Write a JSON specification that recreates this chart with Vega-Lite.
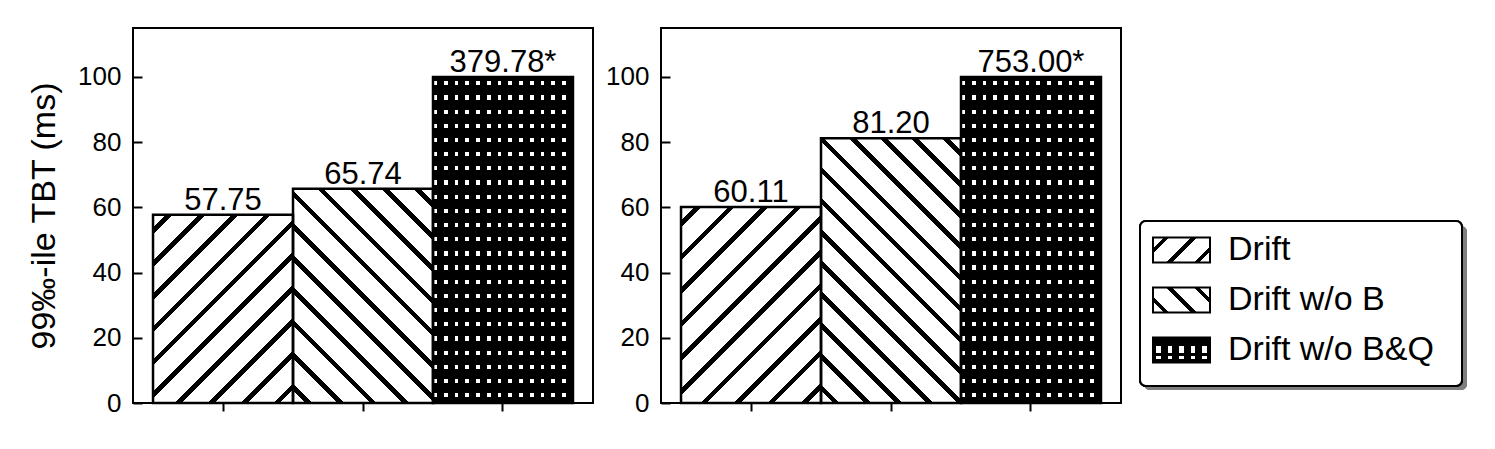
{
  "$schema": "https://vega.github.io/schema/vega-lite/v6.json",
  "padding": {"left": 26, "top": 27, "right": 5, "bottom": 5},
  "background": "white",
  "config": {
    "view": {"stroke": "black", "strokeWidth": 2},
    "font": "Liberation Sans",
    "axis": {"labelFont": "Liberation Sans", "titleFont": "Liberation Sans", "labelColor": "black", "titleColor": "black", "tickColor": "black", "tickWidth": 2, "domain": false, "grid": false, "titleFontWeight": "normal"}
  },
  "data": {"values": [
    {"panel": "L", "series": "Drift", "value": 57.75, "label": "57.75"},
    {"panel": "L", "series": "Drift w/o B", "value": 65.74, "label": "65.74"},
    {"panel": "L", "series": "Drift w/o B&Q", "value": 100, "label": "379.78*"},
    {"panel": "R", "series": "Drift", "value": 60.11, "label": "60.11"},
    {"panel": "R", "series": "Drift w/o B", "value": 81.2, "label": "81.20"},
    {"panel": "R", "series": "Drift w/o B&Q", "value": 100, "label": "753.00*"}
  ]},
  "bounds": "flush",
  "spacing": 68,
  "hconcat": [
    {
      "width": 460, "height": 375,
      "transform": [{"filter": "datum.panel === 'L'"}],
      "encoding": {
        "x": {"field": "series", "type": "nominal", "sort": ["Drift", "Drift w/o B", "Drift w/o B&Q"], "scale": {"paddingInner": 0, "paddingOuter": 0.143}, "axis": {"title": null, "labels": false, "tickSize": 8}},
        "y": {"field": "value", "type": "quantitative", "scale": {"domain": [0, 115], "nice": false}, "axis": {"title": "99‰-ile TBT (ms)", "values": [0, 20, 40, 60, 80, 100], "tickSize": -9, "labelPadding": 21, "labelFontSize": 26, "titleFontSize": 34, "titlePadding": 16}}
      },
      "layer": [
        {
          "mark": {"type": "bar"},
          "encoding": {
            "fill": {
              "condition": [
                {"test": "datum.series === 'Drift'", "value": {"gradient": "linear", "x1": 0, "y1": 0, "x2": 0.8348, "y2": 1.1228, "stops": [{"offset":0,"color":"white"},{"offset":0.04,"color":"white"},{"offset":0.04,"color":"black"},{"offset":0.06,"color":"black"},{"offset":0.06,"color":"white"},{"offset":0.14,"color":"white"},{"offset":0.14,"color":"black"},{"offset":0.16,"color":"black"},{"offset":0.16,"color":"white"},{"offset":0.24,"color":"white"},{"offset":0.24,"color":"black"},{"offset":0.26,"color":"black"},{"offset":0.26,"color":"white"},{"offset":0.34,"color":"white"},{"offset":0.34,"color":"black"},{"offset":0.36,"color":"black"},{"offset":0.36,"color":"white"},{"offset":0.44,"color":"white"},{"offset":0.44,"color":"black"},{"offset":0.46,"color":"black"},{"offset":0.46,"color":"white"},{"offset":0.54,"color":"white"},{"offset":0.54,"color":"black"},{"offset":0.56,"color":"black"},{"offset":0.56,"color":"white"},{"offset":0.64,"color":"white"},{"offset":0.64,"color":"black"},{"offset":0.66,"color":"black"},{"offset":0.66,"color":"white"},{"offset":0.74,"color":"white"},{"offset":0.74,"color":"black"},{"offset":0.76,"color":"black"},{"offset":0.76,"color":"white"},{"offset":0.84,"color":"white"},{"offset":0.84,"color":"black"},{"offset":0.86,"color":"black"},{"offset":0.86,"color":"white"},{"offset":0.94,"color":"white"},{"offset":0.94,"color":"black"},{"offset":0.96,"color":"black"},{"offset":0.96,"color":"white"},{"offset":1,"color":"white"}]}},
                {"test": "datum.series === 'Drift w/o B'", "value": {"gradient": "linear", "x1": 0, "y1": 1, "x2": 0.7567, "y2": -0.1588, "stops": [{"offset":0,"color":"white"},{"offset":0.0360,"color":"white"},{"offset":0.0360,"color":"black"},{"offset":0.0550,"color":"black"},{"offset":0.0550,"color":"white"},{"offset":0.1269,"color":"white"},{"offset":0.1269,"color":"black"},{"offset":0.1459,"color":"black"},{"offset":0.1459,"color":"white"},{"offset":0.2178,"color":"white"},{"offset":0.2178,"color":"black"},{"offset":0.2368,"color":"black"},{"offset":0.2368,"color":"white"},{"offset":0.3087,"color":"white"},{"offset":0.3087,"color":"black"},{"offset":0.3277,"color":"black"},{"offset":0.3277,"color":"white"},{"offset":0.3996,"color":"white"},{"offset":0.3996,"color":"black"},{"offset":0.4186,"color":"black"},{"offset":0.4186,"color":"white"},{"offset":0.4905,"color":"white"},{"offset":0.4905,"color":"black"},{"offset":0.5095,"color":"black"},{"offset":0.5095,"color":"white"},{"offset":0.5814,"color":"white"},{"offset":0.5814,"color":"black"},{"offset":0.6004,"color":"black"},{"offset":0.6004,"color":"white"},{"offset":0.6723,"color":"white"},{"offset":0.6723,"color":"black"},{"offset":0.6913,"color":"black"},{"offset":0.6913,"color":"white"},{"offset":0.7632,"color":"white"},{"offset":0.7632,"color":"black"},{"offset":0.7822,"color":"black"},{"offset":0.7822,"color":"white"},{"offset":0.8541,"color":"white"},{"offset":0.8541,"color":"black"},{"offset":0.8731,"color":"black"},{"offset":0.8731,"color":"white"},{"offset":0.9450,"color":"white"},{"offset":0.9450,"color":"black"},{"offset":0.9640,"color":"black"},{"offset":0.9640,"color":"white"},{"offset":1,"color":"white"}]}}
              ],
              "value": "black"
            }
          }
        },
        {
          "mark": {"type": "bar"},
          "encoding": {"fill": {"condition": {"test": "datum.series === 'Drift w/o B&Q'", "value": {"gradient": "linear", "x1": 0, "y1": 0, "x2": 0, "y2": 1, "stops": [{"offset":0,"color":"rgba(255,255,255,0)"},{"offset":0.0130,"color":"rgba(255,255,255,0)"},{"offset":0.0130,"color":"white"},{"offset":0.0261,"color":"white"},{"offset":0.0261,"color":"rgba(255,255,255,0)"},{"offset":0.0565,"color":"rgba(255,255,255,0)"},{"offset":0.0565,"color":"white"},{"offset":0.0696,"color":"white"},{"offset":0.0696,"color":"rgba(255,255,255,0)"},{"offset":0.1000,"color":"rgba(255,255,255,0)"},{"offset":0.1000,"color":"white"},{"offset":0.1130,"color":"white"},{"offset":0.1130,"color":"rgba(255,255,255,0)"},{"offset":0.1435,"color":"rgba(255,255,255,0)"},{"offset":0.1435,"color":"white"},{"offset":0.1565,"color":"white"},{"offset":0.1565,"color":"rgba(255,255,255,0)"},{"offset":0.1870,"color":"rgba(255,255,255,0)"},{"offset":0.1870,"color":"white"},{"offset":0.2000,"color":"white"},{"offset":0.2000,"color":"rgba(255,255,255,0)"},{"offset":0.2304,"color":"rgba(255,255,255,0)"},{"offset":0.2304,"color":"white"},{"offset":0.2435,"color":"white"},{"offset":0.2435,"color":"rgba(255,255,255,0)"},{"offset":0.2739,"color":"rgba(255,255,255,0)"},{"offset":0.2739,"color":"white"},{"offset":0.2870,"color":"white"},{"offset":0.2870,"color":"rgba(255,255,255,0)"},{"offset":0.3174,"color":"rgba(255,255,255,0)"},{"offset":0.3174,"color":"white"},{"offset":0.3304,"color":"white"},{"offset":0.3304,"color":"rgba(255,255,255,0)"},{"offset":0.3609,"color":"rgba(255,255,255,0)"},{"offset":0.3609,"color":"white"},{"offset":0.3739,"color":"white"},{"offset":0.3739,"color":"rgba(255,255,255,0)"},{"offset":0.4043,"color":"rgba(255,255,255,0)"},{"offset":0.4043,"color":"white"},{"offset":0.4174,"color":"white"},{"offset":0.4174,"color":"rgba(255,255,255,0)"},{"offset":0.4478,"color":"rgba(255,255,255,0)"},{"offset":0.4478,"color":"white"},{"offset":0.4609,"color":"white"},{"offset":0.4609,"color":"rgba(255,255,255,0)"},{"offset":0.4913,"color":"rgba(255,255,255,0)"},{"offset":0.4913,"color":"white"},{"offset":0.5043,"color":"white"},{"offset":0.5043,"color":"rgba(255,255,255,0)"},{"offset":0.5348,"color":"rgba(255,255,255,0)"},{"offset":0.5348,"color":"white"},{"offset":0.5478,"color":"white"},{"offset":0.5478,"color":"rgba(255,255,255,0)"},{"offset":0.5783,"color":"rgba(255,255,255,0)"},{"offset":0.5783,"color":"white"},{"offset":0.5913,"color":"white"},{"offset":0.5913,"color":"rgba(255,255,255,0)"},{"offset":0.6217,"color":"rgba(255,255,255,0)"},{"offset":0.6217,"color":"white"},{"offset":0.6348,"color":"white"},{"offset":0.6348,"color":"rgba(255,255,255,0)"},{"offset":0.6652,"color":"rgba(255,255,255,0)"},{"offset":0.6652,"color":"white"},{"offset":0.6783,"color":"white"},{"offset":0.6783,"color":"rgba(255,255,255,0)"},{"offset":0.7087,"color":"rgba(255,255,255,0)"},{"offset":0.7087,"color":"white"},{"offset":0.7217,"color":"white"},{"offset":0.7217,"color":"rgba(255,255,255,0)"},{"offset":0.7522,"color":"rgba(255,255,255,0)"},{"offset":0.7522,"color":"white"},{"offset":0.7652,"color":"white"},{"offset":0.7652,"color":"rgba(255,255,255,0)"},{"offset":0.7957,"color":"rgba(255,255,255,0)"},{"offset":0.7957,"color":"white"},{"offset":0.8087,"color":"white"},{"offset":0.8087,"color":"rgba(255,255,255,0)"},{"offset":0.8391,"color":"rgba(255,255,255,0)"},{"offset":0.8391,"color":"white"},{"offset":0.8522,"color":"white"},{"offset":0.8522,"color":"rgba(255,255,255,0)"},{"offset":0.8826,"color":"rgba(255,255,255,0)"},{"offset":0.8826,"color":"white"},{"offset":0.8957,"color":"white"},{"offset":0.8957,"color":"rgba(255,255,255,0)"},{"offset":0.9261,"color":"rgba(255,255,255,0)"},{"offset":0.9261,"color":"white"},{"offset":0.9391,"color":"white"},{"offset":0.9391,"color":"rgba(255,255,255,0)"},{"offset":0.9696,"color":"rgba(255,255,255,0)"},{"offset":0.9696,"color":"white"},{"offset":0.9826,"color":"white"},{"offset":0.9826,"color":"rgba(255,255,255,0)"},{"offset":1,"color":"rgba(255,255,255,0)"}]}}, "value": "transparent"}}
        },
        {
          "mark": {"type": "bar"},
          "encoding": {"fill": {"condition": {"test": "datum.series === 'Drift w/o B&Q'", "value": {"gradient": "linear", "x1": 0, "y1": 0, "x2": 1, "y2": 0, "stops": [{"offset":0,"color":"rgba(0,0,0,0)"},{"offset":0.0269,"color":"rgba(0,0,0,0)"},{"offset":0.0269,"color":"black"},{"offset":0.0769,"color":"black"},{"offset":0.0769,"color":"rgba(0,0,0,0)"},{"offset":0.1038,"color":"rgba(0,0,0,0)"},{"offset":0.1038,"color":"black"},{"offset":0.1538,"color":"black"},{"offset":0.1538,"color":"rgba(0,0,0,0)"},{"offset":0.1808,"color":"rgba(0,0,0,0)"},{"offset":0.1808,"color":"black"},{"offset":0.2308,"color":"black"},{"offset":0.2308,"color":"rgba(0,0,0,0)"},{"offset":0.2577,"color":"rgba(0,0,0,0)"},{"offset":0.2577,"color":"black"},{"offset":0.3077,"color":"black"},{"offset":0.3077,"color":"rgba(0,0,0,0)"},{"offset":0.3346,"color":"rgba(0,0,0,0)"},{"offset":0.3346,"color":"black"},{"offset":0.3846,"color":"black"},{"offset":0.3846,"color":"rgba(0,0,0,0)"},{"offset":0.4115,"color":"rgba(0,0,0,0)"},{"offset":0.4115,"color":"black"},{"offset":0.4615,"color":"black"},{"offset":0.4615,"color":"rgba(0,0,0,0)"},{"offset":0.4885,"color":"rgba(0,0,0,0)"},{"offset":0.4885,"color":"black"},{"offset":0.5385,"color":"black"},{"offset":0.5385,"color":"rgba(0,0,0,0)"},{"offset":0.5654,"color":"rgba(0,0,0,0)"},{"offset":0.5654,"color":"black"},{"offset":0.6154,"color":"black"},{"offset":0.6154,"color":"rgba(0,0,0,0)"},{"offset":0.6423,"color":"rgba(0,0,0,0)"},{"offset":0.6423,"color":"black"},{"offset":0.6923,"color":"black"},{"offset":0.6923,"color":"rgba(0,0,0,0)"},{"offset":0.7192,"color":"rgba(0,0,0,0)"},{"offset":0.7192,"color":"black"},{"offset":0.7692,"color":"black"},{"offset":0.7692,"color":"rgba(0,0,0,0)"},{"offset":0.7962,"color":"rgba(0,0,0,0)"},{"offset":0.7962,"color":"black"},{"offset":0.8462,"color":"black"},{"offset":0.8462,"color":"rgba(0,0,0,0)"},{"offset":0.8731,"color":"rgba(0,0,0,0)"},{"offset":0.8731,"color":"black"},{"offset":0.9231,"color":"black"},{"offset":0.9231,"color":"rgba(0,0,0,0)"},{"offset":0.9500,"color":"rgba(0,0,0,0)"},{"offset":0.9500,"color":"black"},{"offset":1,"color":"black"}]}}, "value": "transparent"}}
        },
        {"mark": {"type": "bar", "fill": "transparent", "stroke": "black", "strokeWidth": 2.5}},
        {"mark": {"type": "text", "baseline": "alphabetic", "dy": -5, "fontSize": 31, "font": "Liberation Sans", "color": "black"}, "encoding": {"text": {"field": "label"}}}
      ]
    },
    {
      "width": 460, "height": 375,
      "transform": [{"filter": "datum.panel === 'R'"}],
      "encoding": {
        "x": {"field": "series", "type": "nominal", "sort": ["Drift", "Drift w/o B", "Drift w/o B&Q"], "scale": {"paddingInner": 0, "paddingOuter": 0.143}, "axis": {"title": null, "labels": false, "tickSize": 8}},
        "y": {"field": "value", "type": "quantitative", "scale": {"domain": [0, 115], "nice": false}, "axis": {"title": null, "values": [0, 20, 40, 60, 80, 100], "tickSize": -9, "labelPadding": 21, "labelFontSize": 26}}
      },
      "layer": [
        {
          "mark": {"type": "bar"},
          "encoding": {
            "fill": {
              "condition": [
                {"test": "datum.series === 'Drift'", "value": {"gradient": "linear", "x1": 0, "y1": 0, "x2": 0.8108, "y2": 1.1351, "stops": [{"offset":0,"color":"white"},{"offset":0.04,"color":"white"},{"offset":0.04,"color":"black"},{"offset":0.06,"color":"black"},{"offset":0.06,"color":"white"},{"offset":0.14,"color":"white"},{"offset":0.14,"color":"black"},{"offset":0.16,"color":"black"},{"offset":0.16,"color":"white"},{"offset":0.24,"color":"white"},{"offset":0.24,"color":"black"},{"offset":0.26,"color":"black"},{"offset":0.26,"color":"white"},{"offset":0.34,"color":"white"},{"offset":0.34,"color":"black"},{"offset":0.36,"color":"black"},{"offset":0.36,"color":"white"},{"offset":0.44,"color":"white"},{"offset":0.44,"color":"black"},{"offset":0.46,"color":"black"},{"offset":0.46,"color":"white"},{"offset":0.54,"color":"white"},{"offset":0.54,"color":"black"},{"offset":0.56,"color":"black"},{"offset":0.56,"color":"white"},{"offset":0.64,"color":"white"},{"offset":0.64,"color":"black"},{"offset":0.66,"color":"black"},{"offset":0.66,"color":"white"},{"offset":0.74,"color":"white"},{"offset":0.74,"color":"black"},{"offset":0.76,"color":"black"},{"offset":0.76,"color":"white"},{"offset":0.84,"color":"white"},{"offset":0.84,"color":"black"},{"offset":0.86,"color":"black"},{"offset":0.86,"color":"white"},{"offset":0.94,"color":"white"},{"offset":0.94,"color":"black"},{"offset":0.96,"color":"black"},{"offset":0.96,"color":"white"},{"offset":1,"color":"white"}]}},
                {"test": "datum.series === 'Drift w/o B'", "value": {"gradient": "linear", "x1": 0, "y1": 1, "x2": 0.6317, "y2": -0.1948, "stops": [{"offset":0,"color":"white"},{"offset":0.0303,"color":"white"},{"offset":0.0303,"color":"black"},{"offset":0.0467,"color":"black"},{"offset":0.0467,"color":"white"},{"offset":0.1072,"color":"white"},{"offset":0.1072,"color":"black"},{"offset":0.1236,"color":"black"},{"offset":0.1236,"color":"white"},{"offset":0.1841,"color":"white"},{"offset":0.1841,"color":"black"},{"offset":0.2005,"color":"black"},{"offset":0.2005,"color":"white"},{"offset":0.2610,"color":"white"},{"offset":0.2610,"color":"black"},{"offset":0.2774,"color":"black"},{"offset":0.2774,"color":"white"},{"offset":0.3380,"color":"white"},{"offset":0.3380,"color":"black"},{"offset":0.3544,"color":"black"},{"offset":0.3544,"color":"white"},{"offset":0.4149,"color":"white"},{"offset":0.4149,"color":"black"},{"offset":0.4313,"color":"black"},{"offset":0.4313,"color":"white"},{"offset":0.4918,"color":"white"},{"offset":0.4918,"color":"black"},{"offset":0.5082,"color":"black"},{"offset":0.5082,"color":"white"},{"offset":0.5687,"color":"white"},{"offset":0.5687,"color":"black"},{"offset":0.5851,"color":"black"},{"offset":0.5851,"color":"white"},{"offset":0.6456,"color":"white"},{"offset":0.6456,"color":"black"},{"offset":0.6620,"color":"black"},{"offset":0.6620,"color":"white"},{"offset":0.7226,"color":"white"},{"offset":0.7226,"color":"black"},{"offset":0.7390,"color":"black"},{"offset":0.7390,"color":"white"},{"offset":0.7995,"color":"white"},{"offset":0.7995,"color":"black"},{"offset":0.8159,"color":"black"},{"offset":0.8159,"color":"white"},{"offset":0.8764,"color":"white"},{"offset":0.8764,"color":"black"},{"offset":0.8928,"color":"black"},{"offset":0.8928,"color":"white"},{"offset":0.9533,"color":"white"},{"offset":0.9533,"color":"black"},{"offset":0.9697,"color":"black"},{"offset":0.9697,"color":"white"},{"offset":1,"color":"white"}]}}
              ],
              "value": "black"
            }
          }
        },
        {
          "mark": {"type": "bar"},
          "encoding": {"fill": {"condition": {"test": "datum.series === 'Drift w/o B&Q'", "value": {"gradient": "linear", "x1": 0, "y1": 0, "x2": 0, "y2": 1, "stops": [{"offset":0,"color":"rgba(255,255,255,0)"},{"offset":0.0130,"color":"rgba(255,255,255,0)"},{"offset":0.0130,"color":"white"},{"offset":0.0261,"color":"white"},{"offset":0.0261,"color":"rgba(255,255,255,0)"},{"offset":0.0565,"color":"rgba(255,255,255,0)"},{"offset":0.0565,"color":"white"},{"offset":0.0696,"color":"white"},{"offset":0.0696,"color":"rgba(255,255,255,0)"},{"offset":0.1000,"color":"rgba(255,255,255,0)"},{"offset":0.1000,"color":"white"},{"offset":0.1130,"color":"white"},{"offset":0.1130,"color":"rgba(255,255,255,0)"},{"offset":0.1435,"color":"rgba(255,255,255,0)"},{"offset":0.1435,"color":"white"},{"offset":0.1565,"color":"white"},{"offset":0.1565,"color":"rgba(255,255,255,0)"},{"offset":0.1870,"color":"rgba(255,255,255,0)"},{"offset":0.1870,"color":"white"},{"offset":0.2000,"color":"white"},{"offset":0.2000,"color":"rgba(255,255,255,0)"},{"offset":0.2304,"color":"rgba(255,255,255,0)"},{"offset":0.2304,"color":"white"},{"offset":0.2435,"color":"white"},{"offset":0.2435,"color":"rgba(255,255,255,0)"},{"offset":0.2739,"color":"rgba(255,255,255,0)"},{"offset":0.2739,"color":"white"},{"offset":0.2870,"color":"white"},{"offset":0.2870,"color":"rgba(255,255,255,0)"},{"offset":0.3174,"color":"rgba(255,255,255,0)"},{"offset":0.3174,"color":"white"},{"offset":0.3304,"color":"white"},{"offset":0.3304,"color":"rgba(255,255,255,0)"},{"offset":0.3609,"color":"rgba(255,255,255,0)"},{"offset":0.3609,"color":"white"},{"offset":0.3739,"color":"white"},{"offset":0.3739,"color":"rgba(255,255,255,0)"},{"offset":0.4043,"color":"rgba(255,255,255,0)"},{"offset":0.4043,"color":"white"},{"offset":0.4174,"color":"white"},{"offset":0.4174,"color":"rgba(255,255,255,0)"},{"offset":0.4478,"color":"rgba(255,255,255,0)"},{"offset":0.4478,"color":"white"},{"offset":0.4609,"color":"white"},{"offset":0.4609,"color":"rgba(255,255,255,0)"},{"offset":0.4913,"color":"rgba(255,255,255,0)"},{"offset":0.4913,"color":"white"},{"offset":0.5043,"color":"white"},{"offset":0.5043,"color":"rgba(255,255,255,0)"},{"offset":0.5348,"color":"rgba(255,255,255,0)"},{"offset":0.5348,"color":"white"},{"offset":0.5478,"color":"white"},{"offset":0.5478,"color":"rgba(255,255,255,0)"},{"offset":0.5783,"color":"rgba(255,255,255,0)"},{"offset":0.5783,"color":"white"},{"offset":0.5913,"color":"white"},{"offset":0.5913,"color":"rgba(255,255,255,0)"},{"offset":0.6217,"color":"rgba(255,255,255,0)"},{"offset":0.6217,"color":"white"},{"offset":0.6348,"color":"white"},{"offset":0.6348,"color":"rgba(255,255,255,0)"},{"offset":0.6652,"color":"rgba(255,255,255,0)"},{"offset":0.6652,"color":"white"},{"offset":0.6783,"color":"white"},{"offset":0.6783,"color":"rgba(255,255,255,0)"},{"offset":0.7087,"color":"rgba(255,255,255,0)"},{"offset":0.7087,"color":"white"},{"offset":0.7217,"color":"white"},{"offset":0.7217,"color":"rgba(255,255,255,0)"},{"offset":0.7522,"color":"rgba(255,255,255,0)"},{"offset":0.7522,"color":"white"},{"offset":0.7652,"color":"white"},{"offset":0.7652,"color":"rgba(255,255,255,0)"},{"offset":0.7957,"color":"rgba(255,255,255,0)"},{"offset":0.7957,"color":"white"},{"offset":0.8087,"color":"white"},{"offset":0.8087,"color":"rgba(255,255,255,0)"},{"offset":0.8391,"color":"rgba(255,255,255,0)"},{"offset":0.8391,"color":"white"},{"offset":0.8522,"color":"white"},{"offset":0.8522,"color":"rgba(255,255,255,0)"},{"offset":0.8826,"color":"rgba(255,255,255,0)"},{"offset":0.8826,"color":"white"},{"offset":0.8957,"color":"white"},{"offset":0.8957,"color":"rgba(255,255,255,0)"},{"offset":0.9261,"color":"rgba(255,255,255,0)"},{"offset":0.9261,"color":"white"},{"offset":0.9391,"color":"white"},{"offset":0.9391,"color":"rgba(255,255,255,0)"},{"offset":0.9696,"color":"rgba(255,255,255,0)"},{"offset":0.9696,"color":"white"},{"offset":0.9826,"color":"white"},{"offset":0.9826,"color":"rgba(255,255,255,0)"},{"offset":1,"color":"rgba(255,255,255,0)"}]}}, "value": "transparent"}}
        },
        {
          "mark": {"type": "bar"},
          "encoding": {"fill": {"condition": {"test": "datum.series === 'Drift w/o B&Q'", "value": {"gradient": "linear", "x1": 0, "y1": 0, "x2": 1, "y2": 0, "stops": [{"offset":0,"color":"rgba(0,0,0,0)"},{"offset":0.0269,"color":"rgba(0,0,0,0)"},{"offset":0.0269,"color":"black"},{"offset":0.0769,"color":"black"},{"offset":0.0769,"color":"rgba(0,0,0,0)"},{"offset":0.1038,"color":"rgba(0,0,0,0)"},{"offset":0.1038,"color":"black"},{"offset":0.1538,"color":"black"},{"offset":0.1538,"color":"rgba(0,0,0,0)"},{"offset":0.1808,"color":"rgba(0,0,0,0)"},{"offset":0.1808,"color":"black"},{"offset":0.2308,"color":"black"},{"offset":0.2308,"color":"rgba(0,0,0,0)"},{"offset":0.2577,"color":"rgba(0,0,0,0)"},{"offset":0.2577,"color":"black"},{"offset":0.3077,"color":"black"},{"offset":0.3077,"color":"rgba(0,0,0,0)"},{"offset":0.3346,"color":"rgba(0,0,0,0)"},{"offset":0.3346,"color":"black"},{"offset":0.3846,"color":"black"},{"offset":0.3846,"color":"rgba(0,0,0,0)"},{"offset":0.4115,"color":"rgba(0,0,0,0)"},{"offset":0.4115,"color":"black"},{"offset":0.4615,"color":"black"},{"offset":0.4615,"color":"rgba(0,0,0,0)"},{"offset":0.4885,"color":"rgba(0,0,0,0)"},{"offset":0.4885,"color":"black"},{"offset":0.5385,"color":"black"},{"offset":0.5385,"color":"rgba(0,0,0,0)"},{"offset":0.5654,"color":"rgba(0,0,0,0)"},{"offset":0.5654,"color":"black"},{"offset":0.6154,"color":"black"},{"offset":0.6154,"color":"rgba(0,0,0,0)"},{"offset":0.6423,"color":"rgba(0,0,0,0)"},{"offset":0.6423,"color":"black"},{"offset":0.6923,"color":"black"},{"offset":0.6923,"color":"rgba(0,0,0,0)"},{"offset":0.7192,"color":"rgba(0,0,0,0)"},{"offset":0.7192,"color":"black"},{"offset":0.7692,"color":"black"},{"offset":0.7692,"color":"rgba(0,0,0,0)"},{"offset":0.7962,"color":"rgba(0,0,0,0)"},{"offset":0.7962,"color":"black"},{"offset":0.8462,"color":"black"},{"offset":0.8462,"color":"rgba(0,0,0,0)"},{"offset":0.8731,"color":"rgba(0,0,0,0)"},{"offset":0.8731,"color":"black"},{"offset":0.9231,"color":"black"},{"offset":0.9231,"color":"rgba(0,0,0,0)"},{"offset":0.9500,"color":"rgba(0,0,0,0)"},{"offset":0.9500,"color":"black"},{"offset":1,"color":"black"}]}}, "value": "transparent"}}
        },
        {"mark": {"type": "bar", "fill": "transparent", "stroke": "black", "strokeWidth": 2.5}},
        {"mark": {"type": "text", "baseline": "alphabetic", "dy": -5, "fontSize": 31, "font": "Liberation Sans", "color": "black"}, "encoding": {"text": {"field": "label"}}}
      ]
    },
    {
      "width": 273, "height": 375,
      "view": {"stroke": null},
      "transform": [{"filter": "datum.panel === 'L'"}],
      "resolve": {"scale": {"y": "independent"}},
      "layer": [
        {
          "mark": {"type": "rect", "fill": "#7f7f7f", "cornerRadius": 6},
          "encoding": {
            "x": {"datum": 4, "type": "quantitative", "scale": {"domain": [49, 322], "nice": false, "zero": false}, "axis": null},
            "x2": {"datum": 327},
            "y": {"datum": 198, "type": "quantitative", "scale": {"domain": [375, 0], "nice": false, "zero": false}, "axis": null},
            "y2": {"datum": 362}
          }
        },
        {
          "mark": {"type": "rect", "fill": "white", "stroke": "black", "strokeWidth": 2, "cornerRadius": 6},
          "encoding": {
            "x": {"datum": 0, "type": "quantitative", "scale": {"domain": [49, 322], "nice": false, "zero": false}, "axis": null},
            "x2": {"datum": 322},
            "y": {"datum": 193, "type": "quantitative", "scale": {"domain": [375, 0], "nice": false, "zero": false}, "axis": null},
            "y2": {"datum": 358}
          }
        },
        {
          "mark": {"type": "point", "shape": "M-1,-0.4386H1V0.4386H-1Z", "size": 3249, "filled": true, "opacity": 1, "strokeWidth": 0},
          "encoding": {
            "x": {"datum": 41.5, "type": "quantitative", "scale": {"domain": [49, 322], "nice": false, "zero": false}, "axis": null},
            "y": {"field": "series", "type": "nominal", "scale": {"domain": ["Drift", "Drift w/o B", "Drift w/o B&Q"], "range": [197, 347], "paddingInner": 0, "paddingOuter": 0}, "axis": null},
            "fill": {"condition": [
              {"test": "datum.series === 'Drift'", "value": {"gradient": "linear", "x1": 0, "y1": 0, "x2": 1.2065, "y2": 0.5292, "stops": [{"offset":0,"color":"white"},{"offset":0.13,"color":"white"},{"offset":0.13,"color":"black"},{"offset":0.2,"color":"black"},{"offset":0.2,"color":"white"},{"offset":0.465,"color":"white"},{"offset":0.465,"color":"black"},{"offset":0.535,"color":"black"},{"offset":0.535,"color":"white"},{"offset":0.8,"color":"white"},{"offset":0.8,"color":"black"},{"offset":0.87,"color":"black"},{"offset":0.87,"color":"white"},{"offset":1,"color":"white"}]}},
              {"test": "datum.series === 'Drift w/o B'", "value": {"gradient": "linear", "x1": 0, "y1": 1, "x2": 1.2065, "y2": 0.4708, "stops": [{"offset":0,"color":"white"},{"offset":0.13,"color":"white"},{"offset":0.13,"color":"black"},{"offset":0.2,"color":"black"},{"offset":0.2,"color":"white"},{"offset":0.465,"color":"white"},{"offset":0.465,"color":"black"},{"offset":0.535,"color":"black"},{"offset":0.535,"color":"white"},{"offset":0.8,"color":"white"},{"offset":0.8,"color":"black"},{"offset":0.87,"color":"black"},{"offset":0.87,"color":"white"},{"offset":1,"color":"white"}]}}
            ], "value": "black"}
          }
        },
        {
          "mark": {"type": "point", "shape": "M-1,-0.4386H1V0.4386H-1Z", "size": 3249, "filled": true, "opacity": 1, "strokeWidth": 0},
          "encoding": {
            "x": {"datum": 41.5, "type": "quantitative", "scale": {"domain": [49, 322], "nice": false, "zero": false}, "axis": null},
            "y": {"field": "series", "type": "nominal", "scale": {"domain": ["Drift", "Drift w/o B", "Drift w/o B&Q"], "range": [197, 347], "paddingInner": 0, "paddingOuter": 0}, "axis": null},
            "fill": {"condition": {"test": "datum.series === 'Drift w/o B&Q'", "value": {"gradient": "linear", "x1": 0, "y1": 0, "x2": 0, "y2": 1, "stops": [{"offset":0,"color":"rgba(255,255,255,0)"},{"offset":0.36,"color":"rgba(255,255,255,0)"},{"offset":0.36,"color":"white"},{"offset":0.62,"color":"white"},{"offset":0.62,"color":"rgba(255,255,255,0)"},{"offset":0.74,"color":"rgba(255,255,255,0)"},{"offset":0.74,"color":"white"},{"offset":0.84,"color":"white"},{"offset":0.84,"color":"rgba(255,255,255,0)"},{"offset":1,"color":"rgba(255,255,255,0)"}]}}, "value": "transparent"}
          }
        },
        {
          "mark": {"type": "point", "shape": "M-1,-0.4386H1V0.4386H-1Z", "size": 3249, "filled": true, "opacity": 1, "strokeWidth": 0},
          "encoding": {
            "x": {"datum": 41.5, "type": "quantitative", "scale": {"domain": [49, 322], "nice": false, "zero": false}, "axis": null},
            "y": {"field": "series", "type": "nominal", "scale": {"domain": ["Drift", "Drift w/o B", "Drift w/o B&Q"], "range": [197, 347], "paddingInner": 0, "paddingOuter": 0}, "axis": null},
            "fill": {"condition": {"test": "datum.series === 'Drift w/o B&Q'", "value": {"gradient": "linear", "x1": 0, "y1": 0, "x2": 1, "y2": 0, "stops": [{"offset":0,"color":"black"},{"offset":0.06,"color":"black"},{"offset":0.06,"color":"rgba(0,0,0,0)"},{"offset":0.14,"color":"rgba(0,0,0,0)"},{"offset":0.14,"color":"black"},{"offset":0.26,"color":"black"},{"offset":0.26,"color":"rgba(0,0,0,0)"},{"offset":0.34,"color":"rgba(0,0,0,0)"},{"offset":0.34,"color":"black"},{"offset":0.46,"color":"black"},{"offset":0.46,"color":"rgba(0,0,0,0)"},{"offset":0.54,"color":"rgba(0,0,0,0)"},{"offset":0.54,"color":"black"},{"offset":0.66,"color":"black"},{"offset":0.66,"color":"rgba(0,0,0,0)"},{"offset":0.74,"color":"rgba(0,0,0,0)"},{"offset":0.74,"color":"black"},{"offset":0.86,"color":"black"},{"offset":0.86,"color":"rgba(0,0,0,0)"},{"offset":0.94,"color":"rgba(0,0,0,0)"},{"offset":0.94,"color":"black"},{"offset":1,"color":"black"}]}}, "value": "transparent"}
          }
        },
        {
          "mark": {"type": "point", "shape": "M-1,-0.4386H1V0.4386H-1Z", "size": 3249, "filled": false, "opacity": 1, "stroke": "black", "strokeWidth": 2},
          "encoding": {
            "x": {"datum": 41.5, "type": "quantitative", "scale": {"domain": [49, 322], "nice": false, "zero": false}, "axis": null},
            "y": {"field": "series", "type": "nominal", "scale": {"domain": ["Drift", "Drift w/o B", "Drift w/o B&Q"], "range": [197, 347], "paddingInner": 0, "paddingOuter": 0}, "axis": null}
          }
        },
        {
          "mark": {"type": "text", "align": "left", "baseline": "middle", "fontSize": 34, "font": "Liberation Sans", "color": "black"},
          "encoding": {
            "x": {"datum": 88, "type": "quantitative", "scale": {"domain": [49, 322], "nice": false, "zero": false}, "axis": null},
            "y": {"field": "series", "type": "nominal", "scale": {"domain": ["Drift", "Drift w/o B", "Drift w/o B&Q"], "range": [197, 347], "paddingInner": 0, "paddingOuter": 0}, "axis": null},
            "text": {"field": "series"}
          }
        }
      ]
    }
  ]
}
